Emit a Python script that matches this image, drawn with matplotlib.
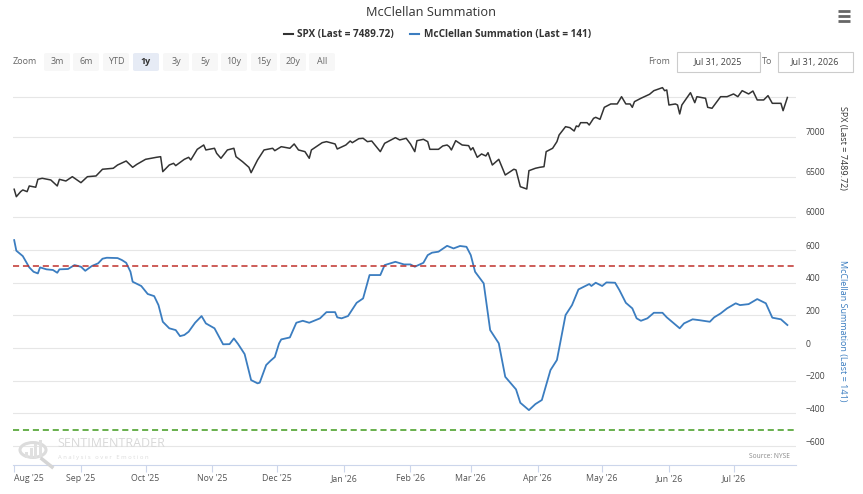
import numpy as np
import pandas as pd
import matplotlib
matplotlib.use("Agg")
import matplotlib.pyplot as plt
import matplotlib.dates as mdates
from matplotlib.patches import FancyBboxPatch, Rectangle, Circle
from matplotlib.lines import Line2D
from matplotlib.transforms import ScaledTranslation

plt.rcParams['font.family'] = ['Open Sans', 'DejaVu Sans']

W, H = 863, 494

# ---- data (day offsets counted from 2025-07-31) ----
start_date = "2025-07-31"

spx_day = [1, 2, 4, 5, 7, 8, 11, 12, 14, 18, 21, 22, 25, 28, 32, 35, 39, 42, 47, 49,
           53, 56, 58, 62, 67, 69, 70, 73, 75, 76, 80, 82, 83, 86, 89, 90, 94, 95, 97, 100,
           103, 104, 107, 110, 111, 114, 117, 121, 122, 125, 129, 131, 133, 136, 138, 139, 144, 146, 150, 151,
           155, 157, 158, 161, 163, 165, 167, 171, 173, 178, 180, 183, 185, 187, 188, 191, 193, 194, 198, 200,
           202, 203, 204, 206, 209, 212, 213, 214, 216, 218, 220, 221, 223, 226, 229, 233, 234, 236, 239, 240,
           243, 245, 247, 248, 251, 253, 254, 257, 259, 261, 262, 263, 264, 267, 268, 270, 271, 273, 275, 278,
           281, 283, 285, 287, 288, 289, 292, 296, 298, 302, 303, 304, 305, 308, 309, 310, 311, 315, 317, 318,
           322, 323, 325, 329, 332, 335, 337, 339, 342, 344, 346, 349, 351, 353, 357, 358, 360]
spx_val = [6343, 6250, 6313, 6334, 6313, 6384, 6368, 6467, 6480, 6459, 6384, 6467, 6446, 6500, 6425, 6500, 6509, 6593, 6605, 6646,
           6696, 6617, 6655, 6717, 6742, 6750, 6563, 6646, 6667, 6638, 6717, 6742, 6709, 6842, 6896, 6834, 6855, 6792, 6730, 6834,
           6855, 6750, 6688, 6617, 6550, 6709, 6834, 6855, 6825, 6875, 6855, 6909, 6834, 6813, 6730, 6834, 6925, 6938, 6909, 6846,
           6896, 6946, 6925, 6975, 6980, 6938, 6946, 6813, 6917, 6988, 6959, 6980, 6909, 6813, 6950, 6967, 6938, 6842, 6842, 6884,
           6896, 6875, 6834, 6950, 6896, 6888, 6834, 6863, 6742, 6784, 6759, 6800, 6646, 6717, 6521, 6593, 6584, 6375, 6346, 6575,
           6605, 6617, 6625, 6813, 6855, 6938, 7021, 7125, 7113, 7071, 7134, 7125, 7175, 7175, 7146, 7229, 7242, 7217, 7367, 7409,
           7409, 7500, 7409, 7409, 7367, 7438, 7480, 7530, 7575, 7613, 7575, 7584, 7396, 7409, 7396, 7284, 7396, 7550, 7425, 7500,
           7480, 7367, 7355, 7500, 7500, 7534, 7500, 7575, 7534, 7571, 7459, 7459, 7513, 7417, 7417, 7325, 7490]

mcs_day = [1, 2, 5, 8, 10, 12, 13, 16, 19, 21, 22, 26, 29, 32, 34, 37, 40, 42, 44, 49,
           51, 53, 55, 56, 60, 63, 66, 68, 70, 73, 76, 78, 80, 82, 85, 88, 90, 94, 98, 101,
           103, 105, 108, 111, 114, 115, 118, 120, 122, 124, 125, 129, 132, 135, 138, 143, 146, 150, 151, 153,
           156, 160, 163, 166, 171, 173, 178, 182, 185, 187, 191, 193, 195, 198, 202, 205, 208, 211, 213, 215,
           219, 222, 226, 229, 234, 236, 240, 243, 246, 250, 253, 257, 260, 263, 268, 269, 271, 274, 276, 280,
           282, 285, 288, 290, 292, 295, 298, 302, 304, 310, 312, 316, 319, 324, 326, 329, 332, 336, 338, 342,
           346, 350, 353, 357, 360]
mcs_val = [661, 596, 563, 494, 467, 457, 494, 482, 478, 461, 482, 484, 508, 498, 473, 502, 519, 547, 553, 551,
           539, 522, 467, 406, 380, 331, 318, 263, 161, 121, 110, 73, 80, 100, 155, 196, 151, 121, 23, 24,
           59, 24, -37, -196, -216, -212, -104, -78, -55, 29, 53, 65, 155, 167, 155, 182, 220, 220, 188, 182,
           196, 277, 304, 447, 447, 508, 528, 512, 512, 498, 522, 569, 584, 590, 626, 610, 625, 620, 569, 467,
           396, 110, 29, -176, -253, -335, -380, -343, -318, -135, -73, 202, 263, 359, 392, 380, 400, 380, 402, 400,
           355, 277, 243, 182, 167, 182, 216, 216, 188, 121, 151, 176, 171, 161, 188, 212, 243, 274, 263, 269,
           300, 274, 186, 176, 141]

upper_level = 500
lower_level = -500

spx_ticks = [6000, 6500, 7000, 7500]
spx_labels = ['6000', '6500', '7000', '']
mcs_ticks = [-600, -400, -200, 0, 200, 400, 600]
month_labels = ["Aug '25", "Sep '25", "Oct '25", "Nov '25", "Dec '25", "Jan '26",
                "Feb '26", "Mar '26", "Apr '26", "May '26", "Jun '26", "Jul '26"]
zoom_buttons = ['3m', '6m', 'YTD', '1y', '3y', '5y', '10y', '15y', '20y', 'All']

base = pd.Timestamp(start_date)
spx_dates = base + pd.to_timedelta(spx_day, unit='D')
mcs_dates = base + pd.to_timedelta(mcs_day, unit='D')
month_ticks = pd.date_range('2025-08-01', periods=12, freq='MS')

SPX_COLOR = '#333333'
MCS_COLOR = '#3b7dc0'
GRID = '#e6e6e6'
AXIS = '#ccd6eb'
TXT = '#666666'


def fx(x):
    return x / W


def fy(y):
    return 1 - y / H


fig = plt.figure(figsize=(W / 100, H / 100), dpi=100)
fig.patch.set_facecolor('white')

left, right = 13, 796
top, split, bottom = 85, 237, 465
ax1 = fig.add_axes([fx(left), fy(split), (right - left) / W, (split - top) / H])
ax2 = fig.add_axes([fx(left), fy(bottom), (right - left) / W, (bottom - split) / H], sharex=ax1)

xmin = base + pd.Timedelta(days=0.45)
xmax = base + pd.Timedelta(days=364)

# SPX panel
ax1.plot(spx_dates, spx_val, color=SPX_COLOR, lw=1.1)
ax1.set_ylim(5746, 7646)
ax1.set_yticks(spx_ticks)
ax1.set_yticklabels(spx_labels)
ax1.set_ylabel('SPX (Last = 7489.72)', rotation=270, color='#333333', fontsize=6.5)

# McClellan panel
ax2.plot(mcs_dates, mcs_val, color=MCS_COLOR, lw=1.3)
ax2.axhline(upper_level, color='#c0302b', lw=1.1, ls=(0, (4, 2.5)))
ax2.axhline(lower_level, color='#3f9a1c', lw=1.1, ls=(0, (4, 2.5)))
ax2.set_ylim(-716, 680)
ax2.set_yticks(mcs_ticks)
ax2.set_ylabel('McClellan Summation (Last = 141)', rotation=270, color=MCS_COLOR, fontsize=6.5)

for ax in (ax1, ax2):
    ax.set_xlim(xmin, xmax)
    ax.set_facecolor('none')
    for s in ax.spines.values():
        s.set_visible(False)
    ax.yaxis.tick_right()
    ax.yaxis.set_label_position('right')
    ax.yaxis.label.set_verticalalignment('center')
    ax.yaxis.label.set_horizontalalignment('center')
    ax.tick_params(axis='y', length=0, pad=7, labelsize=6.2, labelcolor='#444444')
    ax.grid(axis='y', color=GRID, lw=0.8)
    ax.set_axisbelow(True)
    off = ScaledTranslation(0, 5 / 100, fig.dpi_scale_trans)
    for lab in ax.get_yticklabels():
        lab.set_horizontalalignment('left')
        lab.set_transform(lab.get_transform() + off)

ax1.yaxis.set_label_coords((842 - left) / (right - left), (split - 148) / (split - top))
ax2.yaxis.set_label_coords((842 - left) / (right - left), (bottom - 331) / (bottom - split))

ax1.tick_params(axis='x', bottom=False, labelbottom=False)
ax2.spines['bottom'].set_visible(True)
ax2.spines['bottom'].set_color(AXIS)
ax2.set_xticks(month_ticks)
ax2.set_xticklabels(month_labels)
ax2.tick_params(axis='x', length=5, color=AXIS, labelsize=6.3, labelcolor='#555555', pad=6.5)
for i, t in enumerate(ax2.get_xticklabels()):
    t.set_verticalalignment('baseline')
    t.set_horizontalalignment('left' if i == 0 else 'center')

# title, legend, menu
fig.text(fx(431), fy(13), 'McClellan Summation', ha='center', va='center', fontsize=9.2, color='#333333')
for yy in (11, 16, 21):
    fig.add_artist(Line2D([fx(838), fx(850)], [fy(yy), fy(yy)], color='#666666', lw=2, solid_capstyle='butt'))

fig.add_artist(Line2D([fx(284), fx(293)], [fy(34), fy(34)], color=SPX_COLOR, lw=1.5))
fig.text(fx(297), fy(34), 'SPX (Last = 7489.72)', ha='left', va='center', fontsize=7.2, fontweight='bold', color='#333333')
fig.add_artist(Line2D([fx(410), fx(419)], [fy(34), fy(34)], color=MCS_COLOR, lw=1.5))
fig.text(fx(424), fy(34), 'McClellan Summation (Last = 141)', ha='left', va='center', fontsize=7.2, fontweight='bold', color='#333333')

# range selector row
fig.text(fx(13), fy(62), 'Zoom', ha='left', va='center', fontsize=6.5, color=TXT)
btn_x = [57, 86, 116, 146, 176, 205, 234, 264, 293, 322]
for name, bx in zip(zoom_buttons, btn_x):
    sel = name == '1y'
    fig.add_artist(FancyBboxPatch((fx(bx - 13), fy(71)), 26 / W, 18 / H,
                                  boxstyle='round,pad=0,rounding_size=0.003',
                                  transform=fig.transFigure,
                                  facecolor='#e6ebf5' if sel else '#f7f7f7', edgecolor='none'))
    fig.text(fx(bx), fy(62), name, ha='center', va='center', fontsize=6.5,
             color='#333333' if sel else TXT, fontweight='bold' if sel else 'normal')

fig.text(fx(659), fy(62), 'From', ha='center', va='center', fontsize=6.5, color=TXT)
fig.add_artist(Rectangle((fx(677), fy(72)), 83 / W, 20 / H, transform=fig.transFigure,
                         facecolor='white', edgecolor='#cccccc', lw=0.8))
fig.text(fx(718), fy(62), 'Jul 31, 2025', ha='center', va='center', fontsize=6.5, color='#444444')
fig.text(fx(767), fy(62), 'To', ha='center', va='center', fontsize=6.5, color=TXT)
fig.add_artist(Rectangle((fx(778), fy(72)), 75 / W, 20 / H, transform=fig.transFigure,
                         facecolor='white', edgecolor='#cccccc', lw=0.8))
fig.text(fx(815), fy(62), 'Jul 31, 2026', ha='center', va='center', fontsize=6.5, color='#444444')

# source note and watermark
fig.text(fx(790), fy(456), 'Source: NYSE', ha='right', va='center', fontsize=4.8, color='#888888')
fig.add_artist(Circle((fx(33), fy(450)), 13 / W, transform=fig.transFigure,
                      facecolor='none', edgecolor='#dcdcdc', lw=2.2))
for i, bh in enumerate([6, 10, 14, 18]):
    fig.add_artist(Rectangle((fx(25 + i * 4.5), fy(458)), 3 / W, bh / H, transform=fig.transFigure,
                             facecolor='#e0e0e0', edgecolor='none'))
fig.add_artist(Line2D([fx(42), fx(52)], [fy(459), fy(467)], color='#d5d5d5', lw=2.5))
fig.text(fx(57), fy(443), 'SENTIMENTRADER', ha='left', va='center', fontsize=9, color='#d8d8d8')
fig.text(fx(58), fy(457), 'A n a l y s i s   o v e r   E m o t i o n', ha='left', va='center', fontsize=4.2, color='#dcdcdc')

fig.savefig('out.png', dpi=100, facecolor='white')
